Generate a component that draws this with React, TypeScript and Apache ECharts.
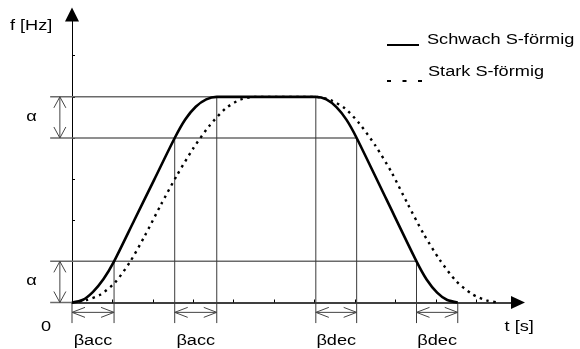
import React, { useEffect, useRef } from 'react';
import * as echarts from 'echarts';

// ---- data (axis units) ----
const xTicks = [1, 2, 3, 4, 5, 6, 7, 8, 9, 10];
const yTicks = [1, 2, 3, 4, 5, 6];

// weakly S-shaped profile (solid)
const schwach: number[][] = [
  [0, 0], [0.26, 0.06], [0.52, 0.26], [0.78, 0.57], [1.04, 1.0],
  [1.54, 2.0], [2.04, 3.0], [2.54, 4.0], [2.8, 4.45], [3.06, 4.76],
  [3.32, 4.94], [3.58, 5.0], [6.03, 5.0], [6.29, 4.94], [6.54, 4.75],
  [6.79, 4.44], [7.04, 4.0], [7.78, 2.5], [8.52, 1.0], [8.77, 0.56],
  [9.03, 0.24], [9.28, 0.06], [9.54, 0],
];

// strongly S-shaped profile (dotted)
const stark: number[][] = [
  [0, 0], [0.36, 0.06], [0.7, 0.19], [1.06, 0.48], [1.43, 0.98],
  [1.8, 1.62], [2.2, 2.38], [2.6, 3.1], [3.0, 3.75], [3.4, 4.3],
  [3.8, 4.72], [4.16, 4.93], [4.52, 5.0], [6.03, 5.0], [6.4, 4.92],
  [6.75, 4.72], [7.1, 4.36], [7.5, 3.82], [7.9, 3.17], [8.3, 2.4],
  [8.7, 1.66], [9.1, 1.03], [9.5, 0.52], [9.9, 0.2], [10.25, 0.05],
  [10.55, 0],
];

// guide lines
const hLevels = [5, 4, 1, 0];
const hEnds = [6.03, 7.04, 8.52, 0];
const hStart = -0.54;
const vXs = [0, 1.04, 2.54, 3.58, 6.03, 7.04, 8.52, 9.54];
const vTops = [0, 1, 4, 5, 5, 4, 1, 0];
const vBottom = -0.5;

// beta brackets (time spans)
const betaSpans = [[0, 1.04], [2.54, 3.58], [6.03, 7.04], [8.52, 9.54]];
const betaNames = ['βacc', 'βacc', 'βdec', 'βdec'];
const betaLevel = -0.24;
const betaLabelLevel = -0.9;

// alpha brackets (frequency spans)
const alphaSpans = [[4, 5], [0, 1]];
const alphaX = -0.3;
const alphaLabelX = -1.0;
const alphaLabelShift = 0.04;

// axis texts [x, y]
const originLabel = { text: '0', pos: [-0.64, -0.58] };
const xName = { text: 't [s]', pos: [11.06, -0.58] };
const yName = { text: 'f [Hz]', pos: [-1.01, 6.75] };

const legendItems = ['Schwach S-förmig', 'Stark S-förmig'];

const FONT = '"Liberation Sans", Arial, Helvetica, sans-serif';
const FS = 15.4;
const SX = 1.18;

export default function App() {
  const ref = useRef<HTMLDivElement>(null);

  useEffect(() => {
    const chart = echarts.init(ref.current!, null, { renderer: 'svg' });

    const guideData: number[][] = [];
    hLevels.forEach((y, i) => guideData.push([hStart, y, hEnds[i], y, 0]));
    vXs.forEach((x, i) => guideData.push([x, vTops[i], x, vBottom, 1]));

    const option: any = {
      animation: false,
      grid: { left: 72, right: 62, top: 14.6, bottom: 46.5 },
      xAxis: {
        type: 'value', min: 0, max: 11.03, interval: 1,
        axisLine: {
          show: true, onZero: true,
          lineStyle: { color: '#000', width: 1.5 },
          symbol: ['none', 'triangle'], symbolSize: [13, 14],
        },
        axisTick: { show: true, inside: true, length: 3, lineStyle: { color: '#000', width: 1 }, customValues: xTicks },
        axisLabel: { show: false },
        splitLine: { show: false },
      },
      yAxis: {
        type: 'value', min: 0, max: 7, interval: 1,
        axisLine: {
          show: true,
          lineStyle: { color: '#000', width: 1 },
          symbol: ['none', 'triangle'], symbolSize: [14, 14],
        },
        axisTick: { show: true, inside: true, length: 3, lineStyle: { color: '#000', width: 1 }, customValues: yTicks },
        axisLabel: { show: false },
        splitLine: { show: false },
      },
      series: [
        {
          type: 'custom', name: 'guides', clip: false, silent: true, z: 1,
          data: guideData,
          renderItem: (_p: any, api: any) => {
            const a = api.coord([api.value(0), api.value(1)]);
            const b = api.coord([api.value(2), api.value(3)]);
            const horiz = api.value(4) === 0;
            return {
              type: 'line',
              shape: { x1: a[0], y1: a[1], x2: b[0], y2: b[1] },
              style: { stroke: horiz ? '#6a6a6a' : '#3a3a3a', lineWidth: horiz ? 1.5 : 1 },
            };
          },
        },
        {
          type: 'custom', name: 'beta', clip: false, silent: true, z: 1,
          data: betaSpans.map((s) => [s[0], s[1], betaLevel]),
          renderItem: (_p: any, api: any) => {
            const a = api.coord([api.value(0), api.value(2)]);
            const b = api.coord([api.value(1), api.value(2)]);
            const L = 13, W = 5;
            const st = { stroke: '#444', lineWidth: 1, fill: null };
            return {
              type: 'group',
              children: [
                { type: 'line', shape: { x1: a[0], y1: a[1], x2: b[0], y2: b[1] }, style: st },
                { type: 'polyline', shape: { points: [[a[0] + L, a[1] - W], [a[0], a[1]], [a[0] + L, a[1] + W]] }, style: st },
                { type: 'polyline', shape: { points: [[b[0] - L, b[1] - W], [b[0], b[1]], [b[0] - L, b[1] + W]] }, style: st },
              ],
            };
          },
        },
        {
          type: 'custom', name: 'alpha', clip: false, silent: true, z: 1,
          data: alphaSpans.map((s) => [alphaX, s[0], s[1]]),
          renderItem: (_p: any, api: any) => {
            const a = api.coord([api.value(0), api.value(1)]);
            const b = api.coord([api.value(0), api.value(2)]);
            const L = 11, W = 6;
            const st = { stroke: '#444', lineWidth: 1, fill: null };
            return {
              type: 'group',
              children: [
                { type: 'line', shape: { x1: a[0], y1: a[1], x2: b[0], y2: b[1] }, style: st },
                { type: 'polyline', shape: { points: [[a[0] - W, a[1] - L], [a[0], a[1]], [a[0] + W, a[1] - L]] }, style: st },
                { type: 'polyline', shape: { points: [[b[0] - W, b[1] + L], [b[0], b[1]], [b[0] + W, b[1] + L]] }, style: st },
              ],
            };
          },
        },
        {
          type: 'line', name: 'Stark S-förmig', data: stark, showSymbol: false, clip: false,
          smooth: 0.25, z: 2,
          lineStyle: { color: '#000', width: 2.4, type: [2.5, 4.5], cap: 'butt' },
        },
        {
          type: 'line', name: 'Schwach S-förmig', data: schwach, showSymbol: false, clip: false,
          smooth: 0.25, z: 3,
          lineStyle: { color: '#000', width: 2.6, join: 'round' },
        },
      ],
    };
    chart.setOption(option);

    const px = (x: number, y: number) => chart.convertToPixel({ gridIndex: 0 } as any, [x, y]) as number[];
    const txt = (text: string, p: number[], align = 'center') => ({
      type: 'text', x: p[0], y: p[1], scaleX: SX, silent: true, z: 10,
      style: {
        text, fill: '#000', fontSize: FS, fontFamily: FONT,
        align, verticalAlign: 'middle', textAlign: align, textVerticalAlign: 'middle',
      },
    });

    const graphics: any[] = [];
    betaSpans.forEach((s, i) => graphics.push(txt(betaNames[i], px((s[0] + s[1]) / 2, betaLabelLevel))));
    alphaSpans.forEach((s) => graphics.push(txt('α', px(alphaLabelX, (s[0] + s[1]) / 2 + alphaLabelShift))));
    graphics.push(txt(originLabel.text, px(originLabel.pos[0], originLabel.pos[1])));
    graphics.push(txt(xName.text, px(xName.pos[0], xName.pos[1])));
    graphics.push(txt(yName.text, px(yName.pos[0], yName.pos[1])));

    // legend
    graphics.push({ type: 'line', silent: true, shape: { x1: 387, y1: 45, x2: 419, y2: 45 }, style: { stroke: '#000', lineWidth: 2 } });
    graphics.push(txt(legendItems[0], [427, 39], 'left'));
    graphics.push({ type: 'line', silent: true, shape: { x1: 387, y1: 81, x2: 423, y2: 81 }, style: { stroke: '#000', lineWidth: 2, lineDash: [4, 11.5] } });
    graphics.push(txt(legendItems[1], [428, 70.7], 'left'));

    chart.setOption({ graphic: graphics });

    return () => chart.dispose();
  }, []);

  return <div ref={ref} style={{ position: 'fixed', left: 0, top: 0, width: 580, height: 349 }} />;
}
